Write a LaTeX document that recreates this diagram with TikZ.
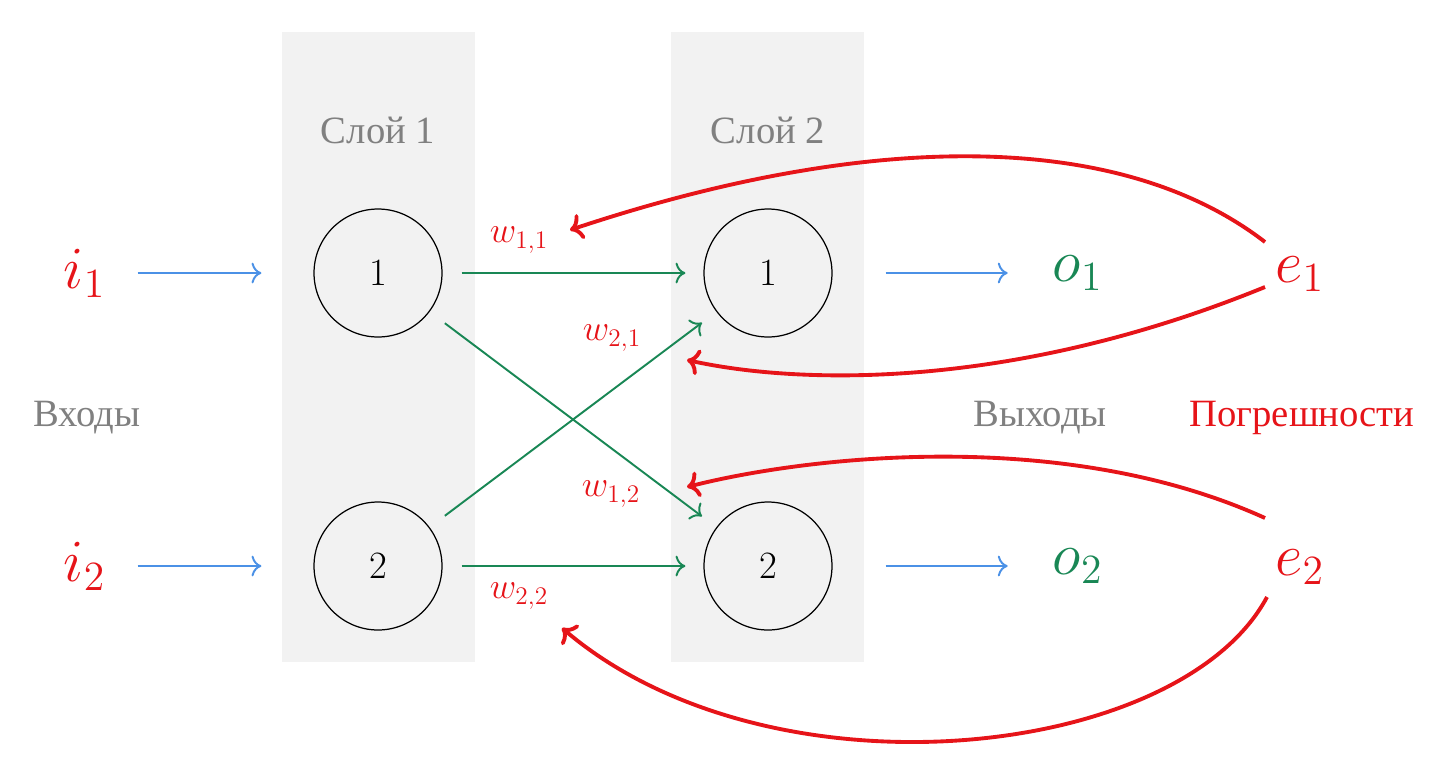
\documentclass[tikz,border=0pt]{standalone}
\usepackage{fontspec}
\usetikzlibrary{arrows.meta}
\newfontfamily\cyrfont{Liberation Serif}
\definecolor{myred}{RGB}{230,20,25}
\definecolor{mygreen}{RGB}{25,135,85}
\definecolor{myblue}{RGB}{75,145,230}
\definecolor{mygrey}{RGB}{128,128,128}
\definecolor{layerbg}{RGB}{242,242,242}
\tikzset{
  neuron/.style={circle, draw, line width=0.7pt, minimum size=2.56cm, inner sep=0pt, font=\fontsize{22}{26}\selectfont},
  layerbox/.style={fill=layerbg, draw=none},
  greylabel/.style={text=mygrey, font=\cyrfont\fontsize{22}{26}\selectfont},
  redlabel/.style={text=myred, font=\cyrfont\fontsize{22}{26}\selectfont},
  bigsym/.style={font=\fontsize{17.28}{20}\selectfont, scale=1.97},
  wlabel/.style={text=myred, font=\fontsize{20.74}{24}\selectfont},
  inarrow/.style={-{To[scale=1.4]}, myblue, line width=1.1pt},
  wire/.style={-{To[scale=1.4]}, mygreen, line width=1.1pt, shorten <=0.38cm, shorten >=0.36cm},
  backprop/.style={-{To[scale=1.1]}, myred, line width=2.2pt},
}
\begin{document}
\begin{tikzpicture}[x=0.02cm,y=-0.02cm]
\useasboundingbox (0,0) rectangle (1446,772);
% layers
\fill[layerbox] (282,32) rectangle (475,662);
\fill[layerbox] (671,32) rectangle (864,662);
\node[greylabel] (l1) at (378,130) {Слой 1};
\node[greylabel] (l2) at (768,130) {Слой 2};
% neurons
\node[neuron] (a1) at (378,273) {1};
\node[neuron] (a2) at (378,566) {2};
\node[neuron] (b1) at (768,273) {1};
\node[neuron] (b2) at (768,566) {2};
% inputs / outputs / errors
\node[bigsym, text=myred] (i1) at (85,273) {$i_1$};
\node[bigsym, text=myred] (i2) at (85,566) {$i_2$};
\node[bigsym, text=mygreen] (o1) at (1078,273) {$o_1$};
\node[bigsym, text=mygreen] (o2) at (1078,566) {$o_2$};
\node[bigsym, text=myred] (e1) at (1300,274) {$e_1$};
\node[bigsym, text=myred] (e2) at (1300,567) {$e_2$};
\node[greylabel] (inl) at (87,418) {Входы};
\node[greylabel] (outl) at (1040,418) {Выходы};
\node[redlabel] (errl) at (1302,418) {Погрешности};
% input arrows
\draw[inarrow, shorten <=0.39cm, shorten >=1.04cm] (i1) -- (a1);
\draw[inarrow, shorten <=0.39cm, shorten >=1.04cm] (i2) -- (a2);
% output arrows
\draw[inarrow, shorten <=1.06cm, shorten >=0.66cm] (b1) -- (o1);
\draw[inarrow, shorten <=1.06cm, shorten >=0.66cm] (b2) -- (o2);
% weights
\draw[wire] (a1) -- (b1);
\draw[wire] (a2) -- (b2);
\draw[wire] (a1) -- (b2);
\draw[wire] (a2) -- (b1);
\node[wlabel] (w11) at (519,240) {$w_{1,1}$};
\node[wlabel] (w21) at (612,338) {$w_{2,1}$};
\node[wlabel] (w12) at (611,494) {$w_{1,2}$};
\node[wlabel] (w22) at (519,596) {$w_{2,2}$};
% backprop curves
\coordinate (e1a) at (1265,242);
\coordinate (e1b) at (1265,287);
\coordinate (e2a) at (1265,518);
\coordinate (e2b) at (1267,597);
\coordinate (t11) at (570,230);
\coordinate (t21) at (687,360);
\coordinate (t12) at (687,487);
\coordinate (t22) at (562,628);
\draw[backprop] (e1a) .. controls (1120,130) and (870,130) .. (t11);
\draw[backprop] (e1b) .. controls (1013,390) and (800,385) .. (t21);
\draw[backprop] (e2a) .. controls (1060,425) and (800,458) .. (t12);
\draw[backprop] (e2b) .. controls (1180,760) and (770,805) .. (t22);
\end{tikzpicture}
\end{document}
